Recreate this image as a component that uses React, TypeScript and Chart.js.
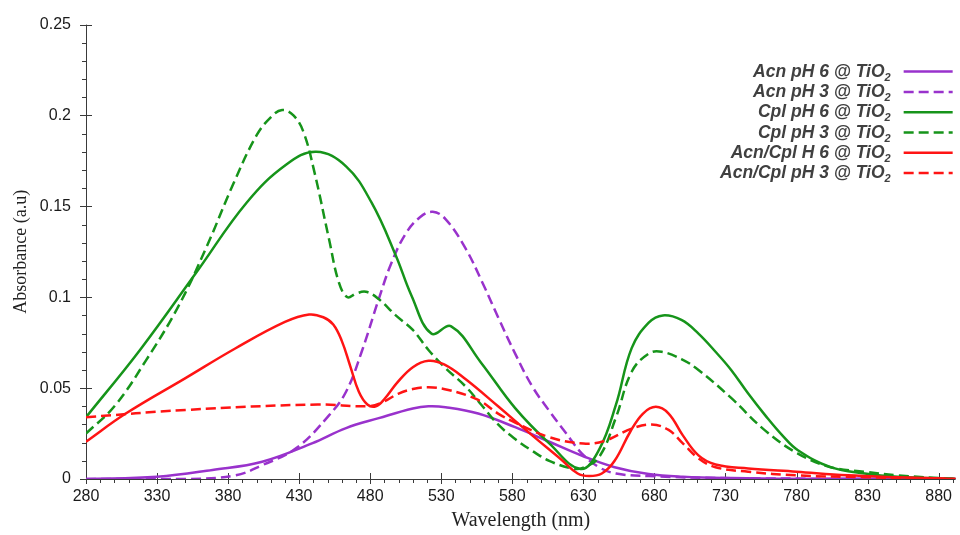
import { useEffect, useRef } from 'react';
import { Chart, registerables } from 'chart.js';

Chart.register(...registerables);

// ---------- data ----------
const acnPH6X = [280, 330, 369, 404, 439, 463, 486, 510, 521, 533, 556, 582, 606, 630, 652, 676, 700, 734, 800, 892];
const acnPH6Y = [0, 0.0012, 0.005, 0.0095, 0.0196, 0.028, 0.0335, 0.0388, 0.04, 0.0395, 0.036, 0.0285, 0.0205, 0.0125, 0.0065, 0.0027, 0.0012, 0.0005, 0, 0];

const acnPH3X = [280, 350, 385, 404, 428, 451, 463, 474, 486, 495, 505, 515, 524, 533, 547, 559, 570, 582, 594, 606, 618, 629, 641, 653, 676, 730, 892];
const acnPH3Y = [0, 0, 0.002, 0.0076, 0.017, 0.035, 0.048, 0.07, 0.099, 0.119, 0.135, 0.144, 0.147, 0.143, 0.127, 0.108, 0.089, 0.069, 0.051, 0.0375, 0.025, 0.014, 0.0065, 0.003, 0.0016, 0.0005, 0];

const cplPH6X = [280, 318, 358, 393, 421, 442, 463, 481, 498, 509, 523, 537, 558, 582, 606, 628, 641, 653, 664, 676, 686, 699, 711, 723, 734, 746, 758, 770, 781, 804, 828, 851, 892];
const cplPH6Y = [0.034, 0.071, 0.114, 0.152, 0.173, 0.18, 0.172, 0.152, 0.123, 0.101, 0.08, 0.084, 0.064, 0.039, 0.0196, 0.0055, 0.016, 0.041, 0.072, 0.086, 0.09, 0.0875, 0.08, 0.07, 0.06, 0.047, 0.035, 0.024, 0.0158, 0.0065, 0.003, 0.0012, 0];

const cplPH3X = [280, 300, 322, 345, 365, 384, 400, 410, 418, 426, 433, 441, 451, 458, 464, 470, 477, 486, 498, 510, 521, 533, 547, 558, 570, 582, 594, 606, 621, 629, 641, 653, 664, 676, 685, 699, 711, 734, 758, 781, 804, 828, 851, 892];
const cplPH3Y = [0.025, 0.04, 0.065, 0.095, 0.128, 0.163, 0.189, 0.199, 0.203, 0.2, 0.191, 0.168, 0.132, 0.108, 0.1, 0.102, 0.103, 0.099, 0.09, 0.082, 0.071, 0.061, 0.051, 0.041, 0.03, 0.022, 0.0155, 0.01, 0.006, 0.006, 0.012, 0.034, 0.059, 0.069, 0.07, 0.066, 0.06, 0.0446, 0.0266, 0.014, 0.0065, 0.004, 0.002, 0];

const mixPH6X = [280, 308, 350, 385, 420, 437, 447, 454, 460, 466, 472, 478, 484, 490, 499, 510, 521, 532, 547, 570, 594, 614, 626, 634, 643, 652, 663, 672, 681, 690, 700, 711, 723, 746, 780, 816, 851, 892];
const mixPH6Y = [0.0205, 0.036, 0.0555, 0.0718, 0.0864, 0.0905, 0.089, 0.085, 0.076, 0.062, 0.048, 0.041, 0.04, 0.044, 0.053, 0.0615, 0.065, 0.063, 0.055, 0.04, 0.024, 0.011, 0.003, 0.0016, 0.003, 0.01, 0.026, 0.036, 0.0397, 0.036, 0.024, 0.013, 0.008, 0.0058, 0.004, 0.002, 0.001, 0];

const mixPH3X = [280, 350, 443, 478, 488, 500, 510, 521, 535, 556, 570, 582, 606, 630, 645, 664, 678, 690, 700, 711, 723, 746, 780, 828, 892];
const mixPH3Y = [0.034, 0.038, 0.041, 0.04, 0.042, 0.047, 0.0495, 0.0505, 0.049, 0.0435, 0.036, 0.031, 0.023, 0.0195, 0.021, 0.0277, 0.03, 0.027, 0.0196, 0.0114, 0.0065, 0.004, 0.002, 0.001, 0];

const xTickValues = [280, 330, 380, 430, 480, 530, 580, 630, 680, 730, 780, 830, 880];
const yTickValues = [0, 0.05, 0.1, 0.15, 0.2, 0.25];

const seriesNames = ['Acn pH 6 @ TiO', 'Acn pH 3 @ TiO', 'Cpl pH 6 @ TiO', 'Cpl pH 3 @ TiO', 'Acn/Cpl H 6 @ TiO', 'Acn/Cpl pH 3 @ TiO'];
const seriesSub = '2';

const PURPLE = '#9932CC';
const GREEN = '#16941A';
const RED = '#FF1414';
const seriesColors = [PURPLE, PURPLE, GREEN, GREEN, RED, RED];
const seriesDashed = [false, true, false, true, false, true];

const SANS = '"Liberation Sans", Arial, sans-serif';
const SERIF = '"Liberation Serif", "Times New Roman", serif';
const DASH = [10, 5];

function toPoints(xs: number[], ys: number[]) {
  return xs.map((x, i) => ({ x, y: ys[i] }));
}

const axesPlugin = {
  id: 'customAxes',
  beforeDatasetsDraw(chart: any) {
    const { ctx, chartArea, scales } = chart;
    const xs = scales.x;
    const ys = scales.y;
    const x0 = chartArea.left;
    const yBase = ys.getPixelForValue(0);
    const yTop = ys.getPixelForValue(0.25);
    ctx.save();
    ctx.strokeStyle = '#3a3a3a';
    ctx.lineWidth = 1;
    ctx.beginPath();
    ctx.moveTo(x0 + 0.5, yTop);
    ctx.lineTo(x0 + 0.5, yBase);
    ctx.moveTo(x0, yBase + 0.5);
    ctx.lineTo(chartArea.right, yBase + 0.5);
    for (let i = 0; i <= 25; i++) {
      const v = i / 100;
      const py = Math.round(ys.getPixelForValue(v)) + 0.5;
      if (i % 5 === 0) {
        ctx.moveTo(x0 - 6, py);
        ctx.lineTo(x0 + 6, py);
      } else {
        ctx.moveTo(x0 - 4, py);
        ctx.lineTo(x0, py);
      }
    }
    for (let v = 280; v <= xs.max; v += 10) {
      const px = Math.round(xs.getPixelForValue(v)) + 0.5;
      if ((v - 280) % 50 === 0) {
        ctx.moveTo(px, yBase - 6);
        ctx.lineTo(px, yBase + 5);
      } else {
        ctx.moveTo(px, yBase);
        ctx.lineTo(px, yBase + 4);
      }
    }
    ctx.stroke();
    ctx.restore();
  },
};

const legendPlugin = {
  id: 'customLegend',
  afterDraw(chart: any) {
    const { ctx, chartArea } = chart;
    const textRight = chartArea.right - 65;
    const lineStart = chartArea.right - 52;
    const lineEnd = chartArea.right - 3;
    const firstRow = chartArea.top + 46;
    const rowStep = 20.3;
    ctx.save();
    seriesNames.forEach((name, i) => {
      const cy = firstRow + i * rowStep;
      ctx.font = `italic bold 11px ${SANS}`;
      const subW = ctx.measureText(seriesSub).width;
      ctx.font = `italic bold 17.5px ${SANS}`;
      const mainW = ctx.measureText(name).width;
      ctx.fillStyle = '#404040';
      ctx.textBaseline = 'alphabetic';
      ctx.textAlign = 'left';
      ctx.fillText(name, textRight - subW - mainW, cy + 6);
      ctx.font = `italic bold 11px ${SANS}`;
      ctx.fillText(seriesSub, textRight - subW, cy + 10);
      ctx.strokeStyle = seriesColors[i];
      ctx.lineWidth = 2.5;
      ctx.setLineDash(seriesDashed[i] ? DASH : []);
      ctx.beginPath();
      ctx.moveTo(lineStart, cy + 1);
      ctx.lineTo(lineEnd, cy + 1);
      ctx.stroke();
    });
    ctx.restore();
  },
};

export default function App() {
  const canvasRef = useRef<HTMLCanvasElement | null>(null);

  useEffect(() => {
    const canvas = canvasRef.current;
    if (!canvas) return;
    const seriesData = [
      toPoints(acnPH6X, acnPH6Y),
      toPoints(acnPH3X, acnPH3Y),
      toPoints(cplPH6X, cplPH6Y),
      toPoints(cplPH3X, cplPH3Y),
      toPoints(mixPH6X, mixPH6Y),
      toPoints(mixPH3X, mixPH3Y),
    ];
    const chart = new Chart(canvas, {
      type: 'line',
      data: {
        datasets: seriesData.map((d, i) => ({
          label: seriesNames[i] + seriesSub,
          data: d,
          borderColor: seriesColors[i],
          backgroundColor: seriesColors[i],
          borderWidth: 2.5,
          borderDash: seriesDashed[i] ? DASH : [],
          pointRadius: 0,
          pointHoverRadius: 0,
          fill: false,
          tension: 0.4,
          order: 6 - i,
        })),
      },
      options: {
        responsive: false,
        animation: false,
        devicePixelRatio: 1,
        layout: { padding: { top: 19, right: 2, left: 0, bottom: 0 } },
        plugins: {
          legend: { display: false },
          tooltip: { enabled: false },
        },
        scales: {
          x: {
            type: 'linear',
            min: 280,
            max: 892,
            grid: { display: false, drawTicks: false },
            border: { display: false },
            afterBuildTicks: (s: any) => {
              s.ticks = xTickValues.map((v) => ({ value: v }));
            },
            afterFit: (s: any) => {
              s.height = 56;
            },
            ticks: {
              font: { family: SANS, size: 16 },
              color: '#1a1a1a',
              padding: 8,
              maxRotation: 0,
              autoSkip: false,
              callback: (v: any) => String(v),
            },
            title: {
              display: true,
              text: 'Wavelength (nm)',
              font: { family: SERIF, size: 20 },
              color: '#222',
              padding: { top: 0, bottom: 2 },
            },
          },
          y: {
            type: 'linear',
            min: 0,
            max: 0.25,
            grid: { display: false, drawTicks: false },
            border: { display: false },
            afterBuildTicks: (s: any) => {
              s.ticks = yTickValues.map((v) => ({ value: v }));
            },
            afterFit: (s: any) => {
              s.width = 86;
            },
            ticks: {
              font: { family: SANS, size: 16 },
              color: '#1a1a1a',
              padding: 15,
              callback: (v: any) => String(v),
            },
            title: {
              display: true,
              text: 'Absorbance (a.u)',
              font: { family: SERIF, size: 18 },
              color: '#222',
              padding: { top: 10, bottom: 0 },
            },
          },
        },
      },
      plugins: [axesPlugin, legendPlugin],
    });
    return () => chart.destroy();
  }, []);

  return (
    <div style={{ position: 'fixed', left: 0, top: 0, width: 960, height: 535, background: '#fff' }}>
      <canvas ref={canvasRef} width={960} height={535} style={{ display: 'block' }} />
    </div>
  );
}
